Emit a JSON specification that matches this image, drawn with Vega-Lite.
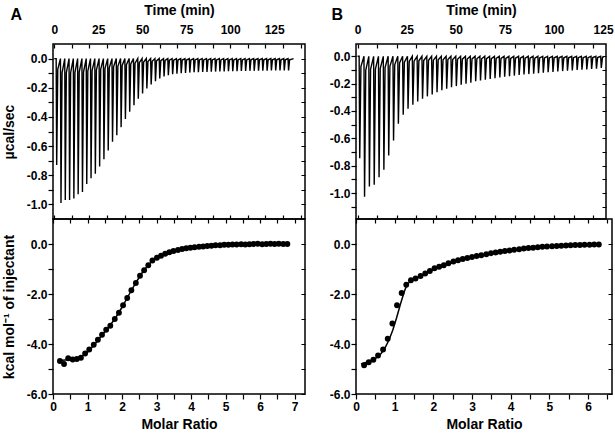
{
"$schema": "https://vega.github.io/schema/vega-lite/v6.json",
"padding": {"left": 1, "top": 2, "right": 0, "bottom": 0},
"background": "white",
"config": {
  "view": {"stroke": "#000", "strokeWidth": 1.5},
  "axis": {"labelFont": "Liberation Sans", "labelFontWeight": "bold", "labelFontSize": 12, "labelColor": "#000", "labelPadding": 1, "labelFlush": false, "labelOverlap": false, "titleFont": "Liberation Sans", "titleFontWeight": "bold", "titleFontSize": 14, "titleColor": "#000", "domain": false, "tickColor": "#000", "tickWidth": 1.2, "tickSize": 5, "gridColor": "#000", "gridWidth": 1.2, "gridOpacity": 1},
  "title": {"font": "Liberation Sans", "fontWeight": "bold", "fontSize": 16, "color": "#000"}
},
"datasets": {
"thermoA": [
{"t":0,"v":0},
{"t":1.1,"v":0},{"t":1.4,"v":-0.73},{"t":2.0,"v":-0.073},
{"t":3.54,"v":0},{"t":3.84,"v":-0.99},{"t":4.44,"v":-0.099},
{"t":5.98,"v":0},{"t":6.28,"v":-0.97},{"t":6.88,"v":-0.097},
{"t":8.42,"v":0},{"t":8.72,"v":-0.97},{"t":9.32,"v":-0.097},
{"t":10.86,"v":0},{"t":11.16,"v":-0.96},{"t":11.76,"v":-0.096},
{"t":13.3,"v":0},{"t":13.6,"v":-0.93},{"t":14.2,"v":-0.093},
{"t":15.74,"v":0},{"t":16.04,"v":-0.915},{"t":16.64,"v":-0.092},
{"t":18.18,"v":0},{"t":18.48,"v":-0.86},{"t":19.08,"v":-0.086},
{"t":20.62,"v":0},{"t":20.92,"v":-0.82},{"t":21.52,"v":-0.082},
{"t":23.06,"v":0},{"t":23.36,"v":-0.79},{"t":23.96,"v":-0.079},
{"t":25.5,"v":0},{"t":25.8,"v":-0.74},{"t":26.4,"v":-0.074},
{"t":27.94,"v":0},{"t":28.24,"v":-0.69},{"t":28.84,"v":-0.069},
{"t":30.38,"v":0},{"t":30.68,"v":-0.63},{"t":31.28,"v":-0.063},
{"t":32.82,"v":0},{"t":33.12,"v":-0.57},{"t":33.72,"v":-0.057},
{"t":35.26,"v":0},{"t":35.56,"v":-0.525},{"t":36.16,"v":-0.053},
{"t":37.7,"v":0},{"t":38.0,"v":-0.47},{"t":38.6,"v":-0.047},
{"t":40.14,"v":0},{"t":40.44,"v":-0.415},{"t":41.04,"v":-0.042},
{"t":42.58,"v":0},{"t":42.88,"v":-0.365},{"t":43.48,"v":-0.037},
{"t":45.02,"v":0},{"t":45.32,"v":-0.32},{"t":45.92,"v":-0.032},
{"t":47.46,"v":0},{"t":47.76,"v":-0.275},{"t":48.36,"v":-0.028},
{"t":49.9,"v":0},{"t":50.2,"v":-0.24},{"t":50.8,"v":-0.024},
{"t":52.34,"v":0},{"t":52.64,"v":-0.205},{"t":53.24,"v":-0.021},
{"t":54.78,"v":0},{"t":55.08,"v":-0.178},{"t":55.68,"v":-0.018},
{"t":57.22,"v":0},{"t":57.52,"v":-0.156},{"t":58.12,"v":-0.016},
{"t":59.66,"v":0},{"t":59.96,"v":-0.137},{"t":60.56,"v":-0.014},
{"t":62.1,"v":0},{"t":62.4,"v":-0.122},{"t":63.0,"v":-0.012},
{"t":64.54,"v":0},{"t":64.84,"v":-0.114},{"t":65.44,"v":-0.011},
{"t":66.98,"v":0},{"t":67.28,"v":-0.107},{"t":67.88,"v":-0.011},
{"t":69.42,"v":0},{"t":69.72,"v":-0.103},{"t":70.32,"v":-0.01},
{"t":71.86,"v":0},{"t":72.16,"v":-0.1},{"t":72.76,"v":-0.01},
{"t":74.3,"v":0},{"t":74.6,"v":-0.098},{"t":75.2,"v":-0.01},
{"t":76.74,"v":0},{"t":77.04,"v":-0.096},{"t":77.64,"v":-0.01},
{"t":79.18,"v":0},{"t":79.48,"v":-0.094},{"t":80.08,"v":-0.009},
{"t":81.62,"v":0},{"t":81.92,"v":-0.093},{"t":82.52,"v":-0.009},
{"t":84.06,"v":0},{"t":84.36,"v":-0.092},{"t":84.96,"v":-0.009},
{"t":86.5,"v":0},{"t":86.8,"v":-0.091},{"t":87.4,"v":-0.009},
{"t":88.94,"v":0},{"t":89.24,"v":-0.09},{"t":89.84,"v":-0.009},
{"t":91.38,"v":0},{"t":91.68,"v":-0.089},{"t":92.28,"v":-0.009},
{"t":93.82,"v":0},{"t":94.12,"v":-0.088},{"t":94.72,"v":-0.009},
{"t":96.26,"v":0},{"t":96.56,"v":-0.088},{"t":97.16,"v":-0.009},
{"t":98.7,"v":0},{"t":99.0,"v":-0.087},{"t":99.6,"v":-0.009},
{"t":101.14,"v":0},{"t":101.44,"v":-0.086},{"t":102.04,"v":-0.009},
{"t":103.58,"v":0},{"t":103.88,"v":-0.086},{"t":104.48,"v":-0.009},
{"t":106.02,"v":0},{"t":106.32,"v":-0.085},{"t":106.92,"v":-0.009},
{"t":108.46,"v":0},{"t":108.76,"v":-0.085},{"t":109.36,"v":-0.009},
{"t":110.9,"v":0},{"t":111.2,"v":-0.084},{"t":111.8,"v":-0.008},
{"t":113.34,"v":0},{"t":113.64,"v":-0.084},{"t":114.24,"v":-0.008},
{"t":115.78,"v":0},{"t":116.08,"v":-0.083},{"t":116.68,"v":-0.008},
{"t":118.22,"v":0},{"t":118.52,"v":-0.083},{"t":119.12,"v":-0.008},
{"t":120.66,"v":0},{"t":120.96,"v":-0.083},{"t":121.56,"v":-0.008},
{"t":123.1,"v":0},{"t":123.4,"v":-0.082},{"t":124.0,"v":-0.008},
{"t":125.54,"v":0},{"t":125.84,"v":-0.082},{"t":126.44,"v":-0.008},
{"t":127.98,"v":0},{"t":128.28,"v":-0.082},{"t":128.88,"v":-0.008},
{"t":130.42,"v":0},{"t":130.72,"v":-0.081},{"t":131.32,"v":-0.008},
{"t":132.86,"v":0},{"t":133.16,"v":-0.081},{"t":133.76,"v":-0.008},
{"t":136.0,"v":0}
],
"thermoB": [
{"t":0,"v":0},
{"t":0.8,"v":0},{"t":1.1,"v":-0.746},{"t":1.7,"v":-0.075},
{"t":3.26,"v":0},{"t":3.56,"v":-1.027},{"t":4.16,"v":-0.103},
{"t":5.72,"v":0},{"t":6.02,"v":-0.953},{"t":6.62,"v":-0.095},
{"t":8.18,"v":0},{"t":8.48,"v":-0.939},{"t":9.08,"v":-0.094},
{"t":10.64,"v":0},{"t":10.94,"v":-0.885},{"t":11.54,"v":-0.089},
{"t":13.1,"v":0},{"t":13.4,"v":-0.829},{"t":14.0,"v":-0.083},
{"t":15.56,"v":0},{"t":15.86,"v":-0.726},{"t":16.46,"v":-0.073},
{"t":18.02,"v":0},{"t":18.32,"v":-0.616},{"t":18.92,"v":-0.062},
{"t":20.48,"v":0},{"t":20.78,"v":-0.494},{"t":21.38,"v":-0.049},
{"t":22.94,"v":0},{"t":23.24,"v":-0.428},{"t":23.84,"v":-0.043},
{"t":25.4,"v":0},{"t":25.7,"v":-0.384},{"t":26.3,"v":-0.038},
{"t":27.86,"v":0},{"t":28.16,"v":-0.355},{"t":28.76,"v":-0.036},
{"t":30.32,"v":0},{"t":30.62,"v":-0.33},{"t":31.22,"v":-0.033},
{"t":32.78,"v":0},{"t":33.08,"v":-0.311},{"t":33.68,"v":-0.031},
{"t":35.24,"v":0},{"t":35.54,"v":-0.293},{"t":36.14,"v":-0.029},
{"t":37.7,"v":0},{"t":38.0,"v":-0.279},{"t":38.6,"v":-0.028},
{"t":40.16,"v":0},{"t":40.46,"v":-0.262},{"t":41.06,"v":-0.026},
{"t":42.62,"v":0},{"t":42.92,"v":-0.249},{"t":43.52,"v":-0.025},
{"t":45.08,"v":0},{"t":45.38,"v":-0.237},{"t":45.98,"v":-0.024},
{"t":47.54,"v":0},{"t":47.84,"v":-0.227},{"t":48.44,"v":-0.023},
{"t":50.0,"v":0},{"t":50.3,"v":-0.218},{"t":50.9,"v":-0.022},
{"t":52.46,"v":0},{"t":52.76,"v":-0.208},{"t":53.36,"v":-0.021},
{"t":54.92,"v":0},{"t":55.22,"v":-0.2},{"t":55.82,"v":-0.02},
{"t":57.38,"v":0},{"t":57.68,"v":-0.193},{"t":58.28,"v":-0.019},
{"t":59.84,"v":0},{"t":60.14,"v":-0.183},{"t":60.74,"v":-0.018},
{"t":62.3,"v":0},{"t":62.6,"v":-0.176},{"t":63.2,"v":-0.018},
{"t":64.76,"v":0},{"t":65.06,"v":-0.171},{"t":65.66,"v":-0.017},
{"t":67.22,"v":0},{"t":67.52,"v":-0.166},{"t":68.12,"v":-0.017},
{"t":69.68,"v":0},{"t":69.98,"v":-0.16},{"t":70.58,"v":-0.016},
{"t":72.14,"v":0},{"t":72.44,"v":-0.155},{"t":73.04,"v":-0.016},
{"t":74.6,"v":0},{"t":74.9,"v":-0.15},{"t":75.5,"v":-0.015},
{"t":77.06,"v":0},{"t":77.36,"v":-0.145},{"t":77.96,"v":-0.015},
{"t":79.52,"v":0},{"t":79.82,"v":-0.141},{"t":80.42,"v":-0.014},
{"t":81.98,"v":0},{"t":82.28,"v":-0.137},{"t":82.88,"v":-0.014},
{"t":84.44,"v":0},{"t":84.74,"v":-0.133},{"t":85.34,"v":-0.013},
{"t":86.9,"v":0},{"t":87.2,"v":-0.13},{"t":87.8,"v":-0.013},
{"t":89.36,"v":0},{"t":89.66,"v":-0.127},{"t":90.26,"v":-0.013},
{"t":91.82,"v":0},{"t":92.12,"v":-0.124},{"t":92.72,"v":-0.012},
{"t":94.28,"v":0},{"t":94.58,"v":-0.12},{"t":95.18,"v":-0.012},
{"t":96.74,"v":0},{"t":97.04,"v":-0.117},{"t":97.64,"v":-0.012},
{"t":99.2,"v":0},{"t":99.5,"v":-0.114},{"t":100.1,"v":-0.011},
{"t":101.66,"v":0},{"t":101.96,"v":-0.111},{"t":102.56,"v":-0.011},
{"t":104.12,"v":0},{"t":104.42,"v":-0.108},{"t":105.02,"v":-0.011},
{"t":106.58,"v":0},{"t":106.88,"v":-0.105},{"t":107.48,"v":-0.011},
{"t":109.04,"v":0},{"t":109.34,"v":-0.103},{"t":109.94,"v":-0.01},
{"t":111.5,"v":0},{"t":111.8,"v":-0.1},{"t":112.4,"v":-0.01},
{"t":113.96,"v":0},{"t":114.26,"v":-0.098},{"t":114.86,"v":-0.01},
{"t":116.42,"v":0},{"t":116.72,"v":-0.096},{"t":117.32,"v":-0.01},
{"t":118.88,"v":0},{"t":119.18,"v":-0.093},{"t":119.78,"v":-0.009},
{"t":121.34,"v":0},{"t":121.64,"v":-0.091},{"t":122.24,"v":-0.009},
{"t":123.8,"v":0},{"t":124.1,"v":-0.085},{"t":124.7,"v":-0.009},
{"t":125.6,"v":0}
],
"heatA": [
{"r":0.20,"h":-4.68},{"r":0.32,"h":-4.80},{"r":0.44,"h":-4.57},{"r":0.57,"h":-4.62},{"r":0.69,"h":-4.60},
{"r":0.81,"h":-4.55},{"r":0.93,"h":-4.38},{"r":1.05,"h":-4.22},{"r":1.18,"h":-4.03},{"r":1.30,"h":-3.83},
{"r":1.42,"h":-3.63},{"r":1.54,"h":-3.43},{"r":1.66,"h":-3.27},{"r":1.79,"h":-3.00},{"r":1.91,"h":-2.75},
{"r":2.03,"h":-2.45},{"r":2.15,"h":-2.16},{"r":2.27,"h":-1.85},{"r":2.40,"h":-1.56},{"r":2.52,"h":-1.27},
{"r":2.64,"h":-1.05},{"r":2.76,"h":-0.85},{"r":2.88,"h":-0.66},{"r":3.01,"h":-0.55},{"r":3.13,"h":-0.47},
{"r":3.25,"h":-0.39},{"r":3.37,"h":-0.33},{"r":3.49,"h":-0.28},{"r":3.62,"h":-0.24},{"r":3.74,"h":-0.20},
{"r":3.86,"h":-0.17},{"r":3.98,"h":-0.15},{"r":4.10,"h":-0.13},{"r":4.23,"h":-0.11},{"r":4.35,"h":-0.10},
{"r":4.47,"h":-0.08},{"r":4.59,"h":-0.07},{"r":4.71,"h":-0.05},{"r":4.84,"h":-0.05},{"r":4.96,"h":-0.03},
{"r":5.08,"h":-0.03},{"r":5.20,"h":-0.02},{"r":5.32,"h":-0.02},{"r":5.45,"h":-0.01},{"r":5.57,"h":-0.02},
{"r":5.69,"h":-0.01},{"r":5.81,"h":0.0},{"r":5.93,"h":0.01},{"r":6.06,"h":-0.01},{"r":6.18,"h":0.0},
{"r":6.30,"h":0.01},{"r":6.42,"h":0.0},{"r":6.54,"h":0.01},{"r":6.67,"h":0.0},{"r":6.79,"h":0.0}
],
"fitA": [
{"r":0.2,"h":-4.66},{"r":0.5,"h":-4.62},{"r":0.8,"h":-4.52},{"r":1.0,"h":-4.33},{"r":1.2,"h":-4.03},
{"r":1.4,"h":-3.68},{"r":1.6,"h":-3.35},{"r":1.8,"h":-2.98},{"r":2.0,"h":-2.53},{"r":2.2,"h":-2.03},
{"r":2.4,"h":-1.55},{"r":2.6,"h":-1.11},{"r":2.8,"h":-0.78},{"r":3.0,"h":-0.56},{"r":3.2,"h":-0.42},
{"r":3.4,"h":-0.32},{"r":3.6,"h":-0.24},{"r":3.8,"h":-0.19},{"r":4.0,"h":-0.15},{"r":4.3,"h":-0.11},
{"r":4.6,"h":-0.07},{"r":5.0,"h":-0.04},{"r":5.5,"h":-0.02},{"r":6.0,"h":-0.01},{"r":6.8,"h":0.0}
],
"heatB": [
{"r":0.21,"h":-4.85},{"r":0.33,"h":-4.73},{"r":0.45,"h":-4.63},{"r":0.57,"h":-4.46},{"r":0.70,"h":-4.22},
{"r":0.82,"h":-3.79},{"r":0.94,"h":-3.18},{"r":1.06,"h":-2.45},{"r":1.18,"h":-1.96},{"r":1.30,"h":-1.63},
{"r":1.42,"h":-1.45},{"r":1.54,"h":-1.38},{"r":1.67,"h":-1.28},{"r":1.79,"h":-1.18},{"r":1.91,"h":-1.08},
{"r":2.03,"h":-0.97},{"r":2.15,"h":-0.91},{"r":2.27,"h":-0.85},{"r":2.39,"h":-0.77},{"r":2.52,"h":-0.70},
{"r":2.64,"h":-0.65},{"r":2.76,"h":-0.60},{"r":2.88,"h":-0.56},{"r":3.00,"h":-0.52},{"r":3.12,"h":-0.48},
{"r":3.24,"h":-0.45},{"r":3.37,"h":-0.41},{"r":3.49,"h":-0.37},{"r":3.61,"h":-0.34},{"r":3.73,"h":-0.31},
{"r":3.85,"h":-0.28},{"r":3.97,"h":-0.26},{"r":4.09,"h":-0.23},{"r":4.22,"h":-0.21},{"r":4.34,"h":-0.18},
{"r":4.46,"h":-0.16},{"r":4.58,"h":-0.15},{"r":4.70,"h":-0.13},{"r":4.82,"h":-0.11},{"r":4.94,"h":-0.10},
{"r":5.07,"h":-0.09},{"r":5.19,"h":-0.08},{"r":5.31,"h":-0.07},{"r":5.43,"h":-0.06},{"r":5.55,"h":-0.05},
{"r":5.67,"h":-0.04},{"r":5.79,"h":-0.04},{"r":5.91,"h":-0.03},{"r":6.04,"h":-0.03},{"r":6.16,"h":-0.02},
{"r":6.28,"h":-0.02}
],
"fitB": [
{"r":0.13,"h":-4.80},{"r":0.3,"h":-4.72},{"r":0.5,"h":-4.58},{"r":0.65,"h":-4.38},{"r":0.75,"h":-4.15},
{"r":0.85,"h":-3.85},{"r":0.95,"h":-3.45},{"r":1.05,"h":-2.95},{"r":1.15,"h":-2.40},{"r":1.25,"h":-1.90},
{"r":1.32,"h":-1.62},{"r":1.4,"h":-1.50},{"r":1.5,"h":-1.42},{"r":1.7,"h":-1.27},{"r":2.0,"h":-1.03},
{"r":2.5,"h":-0.73},{"r":3.0,"h":-0.53},{"r":3.5,"h":-0.38},{"r":4.0,"h":-0.26},{"r":4.5,"h":-0.17},
{"r":5.0,"h":-0.11},{"r":5.5,"h":-0.07},{"r":6.0,"h":-0.04},{"r":6.3,"h":-0.03}
]
},
"spacing": 22,
"hconcat": [
{
  "title": {"text": "A", "anchor": "start", "frame": "bounds", "offset": -21, "dx": 9},
  "spacing": 0,
  "bounds": "flush",
  "vconcat": [
    {
      "width": 252, "height": 175,
      "data": {"name": "thermoA"},
      "encoding": {
        "y": {"field": "v", "type": "quantitative", "scale": {"domain": [-1.1, 0.1], "nice": false, "zero": false},
          "axis": {"title": "µcal/sec", "titlePadding": 10, "values": [-1,-0.9,-0.8,-0.7,-0.6,-0.5,-0.4,-0.3,-0.2,-0.1,0],
            "labelExpr": "abs(round(datum.value*10)) % 2 == 0 ? (datum.value < -0.001 ? '-' : '') + format(abs(datum.value), '.1f') : ''",
            "grid": true, "gridDash": [0, 248, 4, 1000]}}
      },
      "layer": [
        {
          "mark": {"type": "line", "color": "#000", "strokeWidth": 1.4, "clip": true},
          "encoding": {
            "x": {"field": "t", "type": "quantitative", "scale": {"domain": [-0.7, 142.5], "nice": false, "zero": false},
              "axis": {"orient": "top", "title": "Time (min)", "values": [0,25,50,75,100,125], "ticks": false, "tickSize": 0, "labelPadding": 8, "titlePadding": 6, "grid": false}}
          }
        },
        {
          "mark": {"type": "point", "opacity": 0},
          "encoding": {
            "x": {"field": "t", "type": "quantitative",
              "axis": {"orient": "bottom", "title": null, "labels": false, "ticks": false, "values": [0,10,20,30,40,50,60,70,80,90,100,110,120,130,140], "grid": true, "gridDash": [4, 167, 4, 1000]}}
          }
        }
      ],
      "resolve": {"axis": {"x": "independent"}}
    },
    {
      "width": 252, "height": 175,
      "encoding": {
        "x": {"field": "r", "type": "quantitative", "scale": {"domain": [0, 7.3], "nice": false, "zero": false},
          "axis": {"title": "Molar Ratio", "titlePadding": 5, "labelPadding": 2, "values": [0,0.5,1,1.5,2,2.5,3,3.5,4,4.5,5,5.5,6,6.5,7],
            "labelExpr": "datum.value % 1 == 0 ? format(datum.value, 'd') : ''", "grid": true, "gridDash": [4, 1000]}},
        "y": {"field": "h", "type": "quantitative", "scale": {"domain": [-6, 1], "nice": false, "zero": false},
          "axis": {"title": "kcal mol⁻¹ of injectant", "titlePadding": 10, "values": [-6,-5,-4,-3,-2,-1,0],
            "labelExpr": "abs(datum.value) % 2 == 0 ? (datum.value < 0 ? '-' : '') + format(abs(datum.value), '.1f') : ''",
            "grid": true, "gridDash": [0, 248, 4, 1000]}}
      },
      "layer": [
        {"data": {"name": "fitA"}, "mark": {"type": "line", "color": "#000", "strokeWidth": 1.5}},
        {"data": {"name": "heatA"}, "mark": {"type": "circle", "color": "#000", "size": 34, "opacity": 1}}
      ]
    }
  ]
},
{
  "title": {"text": "B", "anchor": "start", "frame": "bounds", "offset": -21, "dx": 3},
  "spacing": 0,
  "bounds": "flush",
  "vconcat": [
    {
      "width": 250, "height": 175,
      "data": {"name": "thermoB"},
      "encoding": {
        "y": {"field": "v", "type": "quantitative", "scale": {"domain": [-1.19, 0.09], "nice": false, "zero": false},
          "axis": {"title": null, "values": [-1.1,-1,-0.9,-0.8,-0.7,-0.6,-0.5,-0.4,-0.3,-0.2,-0.1,0],
            "labelExpr": "abs(round(datum.value*10)) % 2 == 0 ? (datum.value < -0.001 ? '-' : '') + format(abs(datum.value), '.1f') : ''",
            "grid": true, "gridDash": [0, 246, 4, 1000]}}
      },
      "layer": [
        {
          "mark": {"type": "line", "color": "#000", "strokeWidth": 1.4, "clip": true},
          "encoding": {
            "x": {"field": "t", "type": "quantitative", "scale": {"domain": [-0.8, 126.5], "nice": false, "zero": false},
              "axis": {"orient": "top", "title": "Time (min)", "values": [0,25,50,75,100,125], "ticks": false, "tickSize": 0, "labelPadding": 8, "titlePadding": 6, "grid": false}}
          }
        },
        {
          "mark": {"type": "point", "opacity": 0},
          "encoding": {
            "x": {"field": "t", "type": "quantitative",
              "axis": {"orient": "bottom", "title": null, "labels": false, "ticks": false, "values": [0,10,20,30,40,50,60,70,80,90,100,110,120], "grid": true, "gridDash": [4, 167, 4, 1000]}}
          }
        }
      ],
      "resolve": {"axis": {"x": "independent"}}
    },
    {
      "width": 256, "height": 175,
      "encoding": {
        "x": {"field": "r", "type": "quantitative", "scale": {"domain": [0, 6.62], "nice": false, "zero": false},
          "axis": {"title": "Molar Ratio", "titlePadding": 5, "labelPadding": 2, "values": [0,0.5,1,1.5,2,2.5,3,3.5,4,4.5,5,5.5,6,6.5],
            "labelExpr": "datum.value % 1 == 0 ? format(datum.value, 'd') : ''", "grid": true, "gridDash": [4, 1000]}},
        "y": {"field": "h", "type": "quantitative", "scale": {"domain": [-6, 1], "nice": false, "zero": false},
          "axis": {"title": null, "values": [-6,-5,-4,-3,-2,-1,0],
            "labelExpr": "abs(datum.value) % 2 == 0 ? (datum.value < 0 ? '-' : '') + format(abs(datum.value), '.1f') : ''",
            "grid": true, "gridDash": [0, 252, 4, 1000]}}
      },
      "layer": [
        {"data": {"name": "fitB"}, "mark": {"type": "line", "color": "#000", "strokeWidth": 1.5}},
        {"data": {"name": "heatB"}, "mark": {"type": "circle", "color": "#000", "size": 34, "opacity": 1}}
      ]
    }
  ]
}
]
}
